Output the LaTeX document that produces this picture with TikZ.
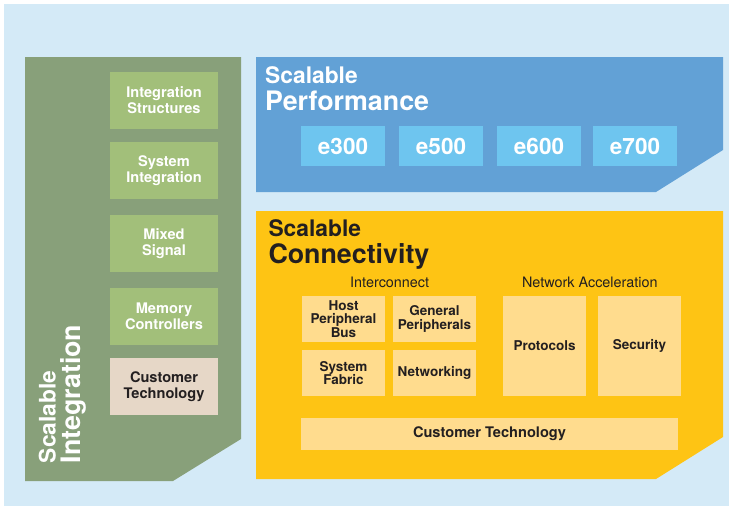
\documentclass[tikz,border=0pt]{standalone}
\usepackage{fontspec}
\setmainfont{TeX Gyre Heros}
\definecolor{bgblue}{HTML}{D4EAF7}
\definecolor{olivegreen}{HTML}{88A07A}
\definecolor{leafgreen}{HTML}{A2BF7A}
\definecolor{sand}{HTML}{E6D7C7}
\definecolor{perfblue}{HTML}{62A1D6}
\definecolor{skyblue}{HTML}{6EC5EF}
\definecolor{amber}{HTML}{FEC414}
\definecolor{paleamber}{HTML}{FFDC8E}
\definecolor{inkdark}{HTML}{231F20}
\newcommand{\fsz}[2]{\fontsize{#1}{#2}\selectfont}
\begin{document}
\begin{tikzpicture}[x=1pt,y=-1pt,
  blk/.style={anchor=north west,inner sep=0pt,outer sep=0pt,align=center,font=\bfseries\fsz{14.6}{16}},
  intbox/.style={blk,fill=leafgreen,text=white,minimum width=108,minimum height=57},
  custbox/.style={blk,fill=sand,text=inkdark,minimum width=108,minimum height=57},
  corebox/.style={blk,fill=skyblue,text=white,minimum width=84,minimum height=40,font=\bfseries\fsz{22.5}{24}},
  conbox/.style={blk,fill=paleamber,text=inkdark,minimum width=83,minimum height=46,font=\bfseries\fsz{13.5}{13.5}},
  headsmall/.style={anchor=base west,inner sep=0pt,font=\bfseries\fsz{22.8}{24}},
  headbig/.style={anchor=base west,inner sep=0pt,font=\bfseries\fsz{26.8}{28}},
  grouplabel/.style={anchor=base,inner sep=0pt,text=inkdark,font=\fsz{14.4}{16}}]
\useasboundingbox (0,0) rectangle (731,507);
% page backdrop
\fill[white] (0,0) rectangle (731,507);
\fill[bgblue] (4,4) rectangle (729,506);

% integration column
\fill[olivegreen] (25,57) -- (241,57) -- (241,439) -- (173,481) -- (25,481) -- cycle;
\node[intbox] (intstruct) at (110,72) {Integration\\Structures};
\node[intbox] (sysint) at (110,142) {System\\Integration};
\node[intbox] (mixed) at (110,215) {Mixed\\Signal};
\node[intbox] (memctl) at (110,287.5) {Memory\\Controllers};
\node[custbox] (custint) at (110,358) {Customer\\Technology};
\node[headsmall,text=white,rotate=90] (intA) at (55.7,463.3) {Scalable};
\node[headbig,text=white,rotate=90] (intB) at (80.9,463.3) {Integration};

% performance panel
\fill[perfblue] (256,57) -- (723,57) -- (723,150) -- (656,192) -- (256,192) -- cycle;
\node[headsmall,text=white] (perfA) at (265,83.3) {Scalable};
\node[headbig,text=white] (perfB) at (265,110) {Performance};
\node[corebox] (e300) at (301,126) {e300};
\node[corebox] (e500) at (399,126) {e500};
\node[corebox] (e600) at (497,126) {e600};
\node[corebox] (e700) at (593,126) {e700};

% connectivity panel
\fill[amber] (256,211) -- (723,211) -- (723,437) -- (656,479) -- (256,479) -- cycle;
\node[headsmall,text=inkdark] (conA) at (268.3,236) {Scalable};
\node[headbig,text=inkdark] (conB) at (268.3,263.3) {Connectivity};
\node[grouplabel] (icLabel) at (389.7,287.3) {Interconnect};
\node[grouplabel] (naLabel) at (589.8,287.3) {Network Acceleration};
\node[conbox] (hostbus) at (302,296) {Host\\Peripheral\\Bus};
\node[conbox] (genper) at (393,296) {General\\Peripherals};
\node[conbox] (sysfab) at (302,350) {System\\Fabric};
\node[conbox] (netw) at (393,350) {Networking};
\node[conbox,minimum height=100] (proto) at (503,296) {Protocols};
\node[conbox,minimum height=100] (secur) at (598,296) {Security};
\node[conbox,minimum width=377,minimum height=32,font=\bfseries\fsz{14.6}{16}] (custcon) at (301,418) {Customer Technology};
\end{tikzpicture}
\end{document}
